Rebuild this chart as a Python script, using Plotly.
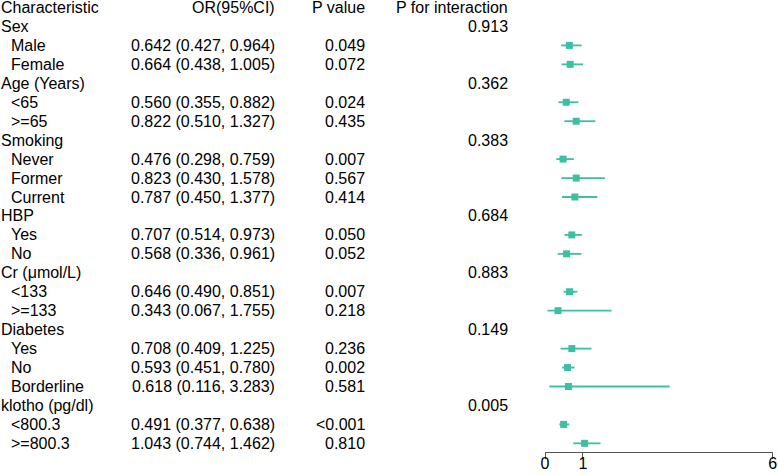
import plotly.graph_objects as go

# ---- data ----
groups = ["Sex", "Age (Years)", "Smoking", "HBP", "Cr (μmol/L)", "Diabetes", "klotho (pg/dl)"]
p_interaction = ["0.913", "0.362", "0.383", "0.684", "0.883", "0.149", "0.005"]

sub_labels = ["Male", "Female", "<65", ">=65", "Never", "Former", "Current",
              "Yes", "No", "<133", ">=133", "Yes", "No", "Borderline", "<800.3", ">=800.3"]
sub_group = [0, 0, 1, 1, 2, 2, 2, 3, 3, 4, 4, 5, 5, 5, 6, 6]
or_est = [0.642, 0.664, 0.560, 0.822, 0.476, 0.823, 0.787, 0.707, 0.568,
          0.646, 0.343, 0.708, 0.593, 0.618, 0.491, 1.043]
ci_low = [0.427, 0.438, 0.355, 0.510, 0.298, 0.430, 0.450, 0.514, 0.336,
          0.490, 0.067, 0.409, 0.451, 0.116, 0.377, 0.744]
ci_high = [0.964, 1.005, 0.882, 1.327, 0.759, 1.578, 1.377, 0.973, 0.961,
           0.851, 1.755, 1.225, 0.780, 3.283, 0.638, 1.462]
p_value = ["0.049", "0.072", "0.024", "0.435", "0.007", "0.567", "0.414", "0.050", "0.052",
           "0.007", "0.218", "0.236", "0.002", "0.581", "<0.001", "0.810"]

headers = ["Characteristic", "OR(95%CI)", "P value", "P for interaction"]
x_ticks = [0, 1, 6]

# ---- layout constants ----
W, H = 778, 475
color = "#3DBFA1"
font = "Liberation Sans, Arial, sans-serif"
fs = 16

# assign rows
rows_group = {}
sub_row = [0] * len(sub_labels)
r = 1
for gi, g in enumerate(groups):
    rows_group[gi] = r
    r += 1
    for si, sg in enumerate(sub_group):
        if sg == gi:
            sub_row[si] = r
            r += 1

y0_px = 7.5
pitch = 18.95
axis_px = 452
ytop = -y0_px / pitch
ybot = (axis_px - y0_px) / pitch

fig = go.Figure()
fig.add_trace(go.Scatter(
    x=or_est, y=sub_row, mode="markers",
    marker=dict(symbol="square", size=7, color=color),
    error_x=dict(type="data", symmetric=False,
                 array=[h - o for h, o in zip(ci_high, or_est)],
                 arrayminus=[o - l for o, l in zip(or_est, ci_low)],
                 color=color, thickness=1.8, width=0),
    showlegend=False, hoverinfo="skip", cliponaxis=False,
))

ann = []
def txt(x_px, row, s, anchor):
    ann.append(dict(x=x_px / W, xref="paper", y=row, yref="y", text=s,
                    showarrow=False, xanchor=anchor, yanchor="middle",
                    font=dict(family=font, size=fs, color="black")))

txt(-1, 0, headers[0], "left")
txt(277, 0, headers[1], "right")
txt(367, 0, headers[2], "right")
txt(510, 0, headers[3], "right")
for gi, g in enumerate(groups):
    txt(-1, rows_group[gi], g, "left")
    txt(510, rows_group[gi], p_interaction[gi], "right")
for si, lab in enumerate(sub_labels):
    rr = sub_row[si]
    txt(9, rr, lab, "left")
    txt(277, rr, f"{or_est[si]:.3f} ({ci_low[si]:.3f}, {ci_high[si]:.3f})", "right")
    txt(367, rr, p_value[si], "right")

fig.update_layout(
    width=W, height=H, margin=dict(l=0, r=0, t=0, b=0),
    paper_bgcolor="white", plot_bgcolor="white",
    annotations=ann,
    xaxis=dict(domain=[545 / W, 772.7 / W], range=[0, 6], tickvals=x_ticks,
               automargin=False,
               showline=True, linecolor="#555555", linewidth=1,
               ticks="outside", ticklen=6, tickcolor="#555555", tickwidth=1,
               ticklabelstandoff=-9,
               showgrid=False, zeroline=False,
               tickfont=dict(family=font, size=16, color="black")),
    yaxis=dict(domain=[(H - axis_px) / H, 1], range=[ybot, ytop],
               automargin=False,
               visible=False, showgrid=False, zeroline=False),
)

fig.write_html("out.html")
